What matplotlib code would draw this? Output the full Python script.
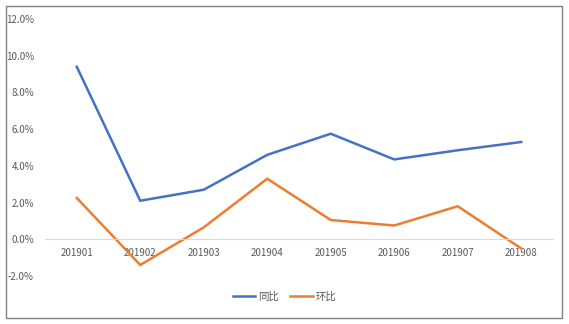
import numpy as np
import matplotlib.pyplot as plt
from matplotlib.patches import Rectangle

plt.rcParams['font.family'] = ['Noto Sans CJK SC', 'DejaVu Sans']

## data
months = ['201901', '201902', '201903', '201904', '201905', '201906', '201907', '201908']
yoy = [9.4, 2.1, 2.7, 4.6, 5.75, 4.35, 4.85, 5.3]    # 同比 [%]
mom = [2.25, -1.4, 0.65, 3.3, 1.05, 0.75, 1.8, -0.5]  # 环比 [%]

W, H = 569, 324
fig = plt.figure(figsize=(W/100, H/100), dpi=100)
ax = fig.add_axes([45/W, 1-276/H, (553-45)/W, (276-19)/H])

x = np.arange(len(months))
ax.plot(x, yoy, color='#4472C4', lw=1.8, label='同比', solid_joinstyle='miter')
ax.plot(x, mom, color='#ED7D31', lw=1.8, label='环比', solid_joinstyle='miter')

ax.set_xlim(-0.5, len(months)-0.5)
ax.set_ylim(-2, 12)
ax.set_yticks(np.arange(-2, 13, 2))
ax.set_yticklabels(['%.1f%%' % v for v in np.arange(-2, 13, 2)])
ax.set_xticks(x)
ax.set_xticklabels(months)
ax.tick_params(length=0, labelsize=7, colors='#595959')
ax.tick_params(axis='y', pad=8)
ax.tick_params(axis='x', pad=6)

for s in ['top', 'right', 'left']:
    ax.spines[s].set_visible(False)
ax.spines['bottom'].set_position(('data', 0))
ax.spines['bottom'].set_color('#D9D9D9')
ax.spines['bottom'].set_linewidth(0.8)

fig.legend(loc='center', bbox_to_anchor=(0.5, 1-297/H), ncol=2, frameon=False,
           fontsize=7.5, labelcolor='#595959', handlelength=2.2, handletextpad=0.3,
           columnspacing=1.0)

## outer border
fig.patches.append(Rectangle((6/W, 6/H), (562-6)/W, (318-6)/H, transform=fig.transFigure,
                             fill=False, edgecolor='#808080', lw=1.0))

fig.savefig('out.png', dpi=100)
